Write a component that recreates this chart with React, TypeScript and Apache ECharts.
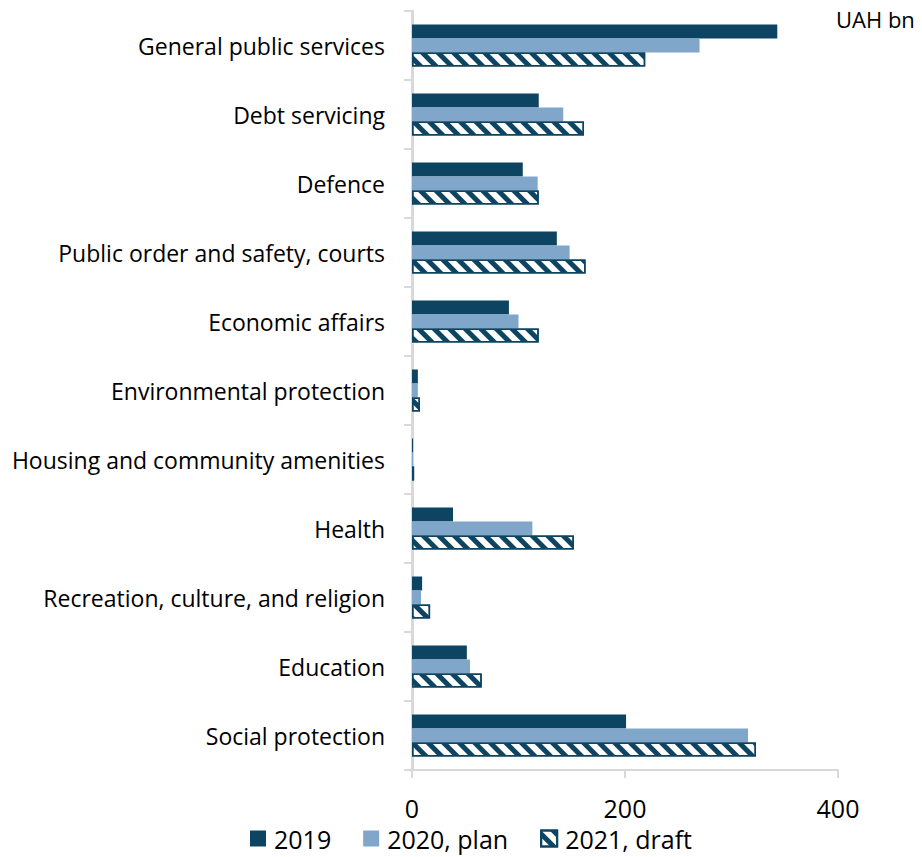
import React, { useEffect, useRef } from "react";
import * as echarts from "echarts";

const categories = [
  "General public services",
  "Debt servicing",
  "Defence",
  "Public order and safety, courts",
  "Economic affairs",
  "Environmental protection",
  "Housing and community amenities",
  "Health",
  "Recreation, culture, and religion",
  "Education",
  "Social protection",
];
const values2019 = [343, 119, 104, 136, 91, 5.5, 1, 38.5, 9.5, 51.5, 201];
const values2020 = [270, 142, 118, 148, 100, 5.5, 1, 113, 8.5, 54.5, 315.5];
const values2021 = [219, 161.5, 119, 163, 119, 7.5, 2, 152, 17, 65.5, 323];
const seriesNames = ["2019", "2020, plan", "2021, draft"];

const DARK = "#0c4462";
const LIGHT = "#80a7ca";
const FONT = "'Open Sans', Lato, sans-serif";

export default function App() {
  const ref = useRef<HTMLDivElement>(null);
  useEffect(() => {
    if (!ref.current) return;
    const chart = echarts.init(ref.current, undefined, { renderer: "svg" });
    chart.setOption({
      animation: false,
      textStyle: { fontFamily: FONT, color: "#000" },
      grid: { left: 412, right: 84, top: 11, bottom: 87, containLabel: false },
      legend: {
        top: 826,
        left: 250,
        itemWidth: 16,
        itemHeight: 16,
        itemGap: 32,
        padding: 0,
        icon: "rect",
        textStyle: {
          fontSize: 25,
          color: "#000",
          fontFamily: FONT,
          padding: [0, 0, 0, 3],
        },
        data: seriesNames,
      },
      graphic: [
        {
          type: "text",
          left: 836,
          top: 8,
          style: { text: "UAH bn", fontSize: 22, fill: "#000", fontFamily: FONT },
        },
      ],
      xAxis: {
        type: "value",
        min: 0,
        max: 400,
        interval: 200,
        splitLine: { show: false },
        axisLine: { show: true, lineStyle: { color: "#d9d9d9", width: 2 } },
        axisTick: { show: true, length: 8, lineStyle: { color: "#d9d9d9", width: 2 } },
        axisLabel: { fontSize: 25, color: "#000", margin: 25, fontFamily: FONT },
      },
      yAxis: {
        type: "category",
        data: categories,
        inverse: true,
        axisLine: { show: true, lineStyle: { color: "#d9d9d9", width: 3 } },
        axisTick: { show: true, length: 8, lineStyle: { color: "#d9d9d9", width: 2 } },
        axisLabel: { fontSize: 23, color: "#000", margin: 27, fontFamily: FONT },
      },
      series: [
        {
          name: seriesNames[0],
          type: "bar",
          data: values2019,
          barWidth: 14,
          barGap: "0%",
          itemStyle: { color: DARK },
        },
        {
          name: seriesNames[1],
          type: "bar",
          data: values2020,
          barWidth: 14,
          barGap: "0%",
          itemStyle: { color: LIGHT },
        },
        {
          name: seriesNames[2],
          type: "bar",
          data: values2021,
          barWidth: 14,
          barGap: "0%",
          itemStyle: {
            color: "#ffffff",
            borderColor: DARK,
            borderWidth: 1.5,
            decal: {
              symbol: "rect",
              color: DARK,
              dashArrayX: [1, 0],
              dashArrayY: [5, 6],
              rotation: Math.PI / 4,
            },
          },
        },
      ],
    });
    return () => chart.dispose();
  }, []);
  return (
    <div
      ref={ref}
      style={{ position: "absolute", left: 0, top: 0, width: 922, height: 857 }}
    />
  );
}
